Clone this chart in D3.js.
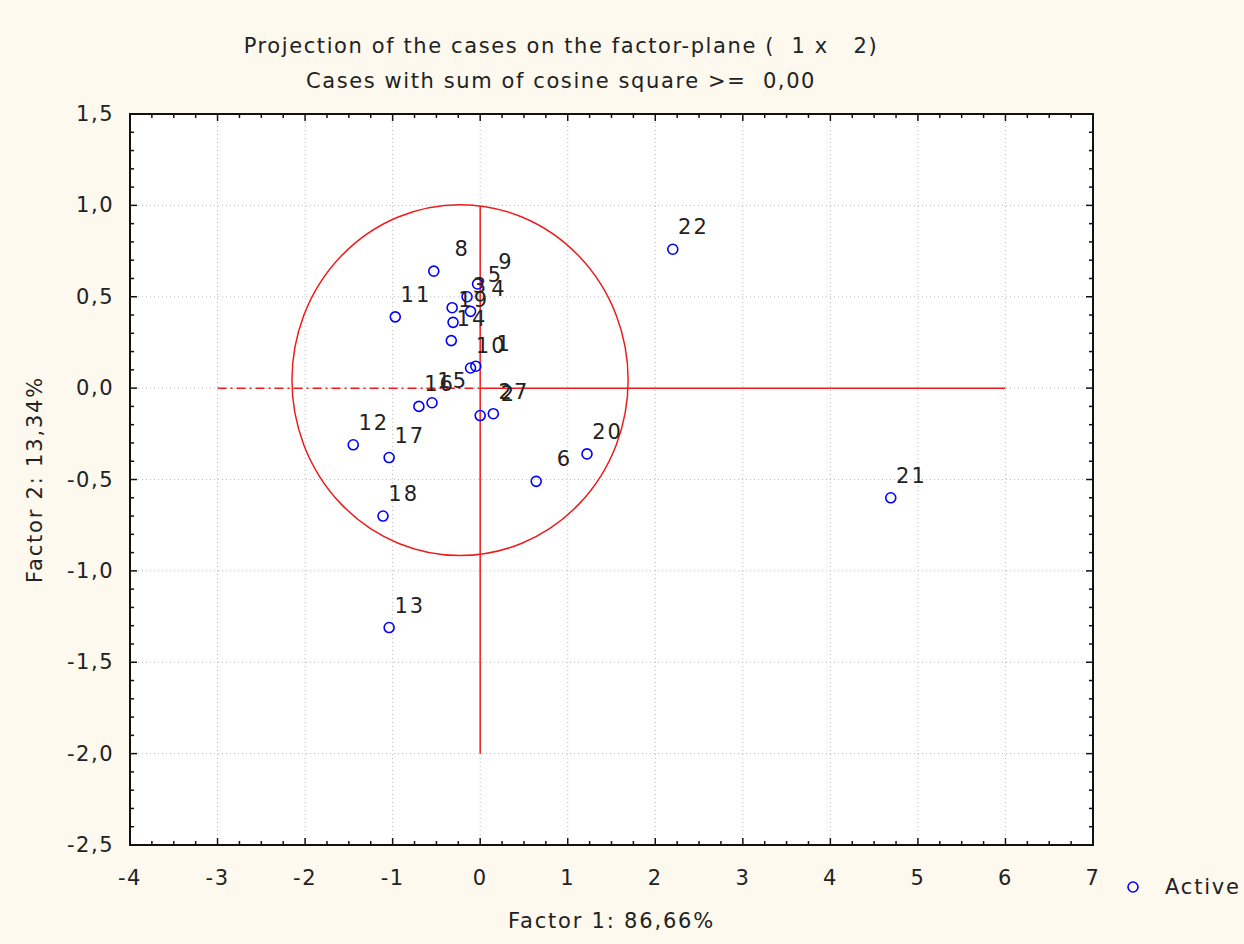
<!DOCTYPE html>
<html>
<head>
<meta charset="utf-8">
<script src="https://cdn.jsdelivr.net/npm/d3@7"></script>
<style>
  body { margin: 0; background: #fdf9ee; }
  text { font-family: "DejaVu Sans", "Liberation Sans", sans-serif; fill: #222; }
</style>
</head>
<body>
<div id="chart"></div>
<script>
const W = 1244, H = 944,
  margin = { top: 114, right: 151, bottom: 99, left: 130 },
  pw = W - margin.left - margin.right,
  ph = H - margin.top - margin.bottom,
  ptColor = "#0000ff",
  refColor = "#ee1c1c"

// case labels and factor coordinates
const caseLabels = ["8", "11", "9", "5", "3", "4", "19", "14", "10", "1", "15", "16", "2", "27", "12", "17", "18", "13", "6", "20", "21", "22"];
const factor1 = [-0.53, -0.97, -0.03, -0.15, -0.32, -0.11, -0.31, -0.33, -0.11, -0.05, -0.55, -0.70, 0.00, 0.15, -1.45, -1.04, -1.11, -1.04, 0.64, 1.22, 4.69, 2.20];
const factor2 = [0.64, 0.39, 0.57, 0.50, 0.44, 0.42, 0.36, 0.26, 0.11, 0.12, -0.08, -0.10, -0.15, -0.14, -0.31, -0.38, -0.70, -1.31, -0.51, -0.36, -0.60, 0.76];

const xTicks = [-4, -3, -2, -1, 0, 1, 2, 3, 4, 5, 6, 7];
const yTicks = [1.5, 1.0, 0.5, 0.0, -0.5, -1.0, -1.5, -2.0, -2.5];
const yTickLabels = ["1,5", "1,0", "0,5", "0,0", "-0,5", "-1,0", "-1,5", "-2,0", "-2,5"];

const data = caseLabels.map((l, i) => ({ label: l, x: factor1[i], y: factor2[i] }));

var x = d3.scaleLinear().domain([-4, 7]).range([0, pw]);
var y = d3.scaleLinear().domain([-2.5, 1.5]).range([ph, 0]);

var svg = d3.select("#chart").append("svg")
  .attr("width", W).attr("height", H)
  .style("background", "#fdf9ee");

// titles
svg.append("text").attr("x", 561).attr("y", 53).attr("text-anchor", "middle")
  .attr("font-size", "21px").attr("letter-spacing", "1.6px").attr("xml:space", "preserve")
  .text("Projection of the cases on the factor-plane (  1 x   2)");
svg.append("text").attr("x", 561).attr("y", 88).attr("text-anchor", "middle")
  .attr("font-size", "21px").attr("letter-spacing", "1.6px").attr("xml:space", "preserve")
  .text("Cases with sum of cosine square >=  0,00");

var g = svg.append("g").attr("transform", "translate(" + margin.left + "," + margin.top + ")");

g.append("rect").attr("width", pw).attr("height", ph).attr("fill", "#fff");

// grid
g.selectAll(".gx").data(xTicks.slice(1, -1)).enter().append("line")
  .attr("x1", d => x(d)).attr("x2", d => x(d)).attr("y1", 0).attr("y2", ph)
  .attr("stroke", "#bbb").attr("stroke-dasharray", "1,3");
g.selectAll(".gy").data(yTicks.slice(1, -1)).enter().append("line")
  .attr("y1", d => y(d)).attr("y2", d => y(d)).attr("x1", 0).attr("x2", pw)
  .attr("stroke", "#bbb").attr("stroke-dasharray", "1,3");

// inward ticks on all four sides
const xMinor = d3.range(-4, 7.001, 0.25);
const yMinor = d3.range(-2.5, 1.501, 0.1);
function isMajor(v, step) { return Math.abs(v / step - Math.round(v / step)) < 1e-6; }
xMinor.forEach(v => {
  const len = isMajor(v, 1) ? 7 : 4;
  g.append("line").attr("x1", x(v)).attr("x2", x(v)).attr("y1", ph).attr("y2", ph - len).attr("stroke", "#111").attr("stroke-width", 1.5);
  g.append("line").attr("x1", x(v)).attr("x2", x(v)).attr("y1", 0).attr("y2", len).attr("stroke", "#111").attr("stroke-width", 1.5);
});
yMinor.forEach(v => {
  const len = isMajor(v, 0.5) ? 7 : 4;
  g.append("line").attr("y1", y(v)).attr("y2", y(v)).attr("x1", 0).attr("x2", len).attr("stroke", "#111").attr("stroke-width", 1.5);
  g.append("line").attr("y1", y(v)).attr("y2", y(v)).attr("x1", pw).attr("x2", pw - len).attr("stroke", "#111").attr("stroke-width", 1.5);
});

g.append("rect").attr("width", pw).attr("height", ph).attr("fill", "none")
  .attr("stroke", "#111").attr("stroke-width", 2);

// tick labels
g.selectAll(".xl").data(xTicks).enter().append("text")
  .attr("x", d => x(d)).attr("y", ph + 40).attr("text-anchor", "middle")
  .attr("font-size", "21px").attr("letter-spacing", "1.5px").text(d => d);
g.selectAll(".yl").data(yTicks).enter().append("text")
  .attr("x", -16).attr("y", d => y(d) + 7).attr("text-anchor", "end")
  .attr("font-size", "21px").attr("letter-spacing", "1.5px").text((d, i) => yTickLabels[i]);

// axis titles
svg.append("text").attr("x", margin.left + pw / 2).attr("y", 928).attr("text-anchor", "middle")
  .attr("font-size", "21px").attr("letter-spacing", "1.8px").text("Factor 1: 86,66%");
svg.append("text").attr("transform", "translate(42," + (margin.top + ph / 2) + ") rotate(-90)")
  .attr("text-anchor", "middle").attr("font-size", "21px").attr("letter-spacing", "1.8px").text("Factor 2: 13,34%");

// reference lines and circle
g.append("line").attr("x1", x(0)).attr("x2", x(0)).attr("y1", y(1)).attr("y2", y(-2))
  .attr("stroke", refColor).attr("stroke-width", 1.5);
g.append("line").attr("x1", x(0)).attr("x2", x(6)).attr("y1", y(0)).attr("y2", y(0))
  .attr("stroke", refColor).attr("stroke-width", 1.5);
g.append("line").attr("x1", x(-3)).attr("x2", x(0)).attr("y1", y(0)).attr("y2", y(0))
  .attr("stroke", refColor).attr("stroke-width", 1.5).attr("stroke-dasharray", "9,4,2,4");
g.append("ellipse")
  .attr("cx", x(-0.23)).attr("cy", y(0.044))
  .attr("rx", x(1.92) - x(0)).attr("ry", y(0) - y(0.96))
  .attr("fill", "none").attr("stroke", refColor).attr("stroke-width", 1.5);

// points
g.selectAll(".pt").data(data).enter().append("circle")
  .attr("cx", d => x(d.x)).attr("cy", d => y(d.y)).attr("r", 5)
  .attr("fill", "none").attr("stroke", ptColor).attr("stroke-width", 1.6);
g.selectAll(".lb").data(data).enter().append("text")
  .attr("x", d => x(d.x) + 36).attr("y", d => y(d.y) - 15)
  .attr("text-anchor", "end").attr("font-size", "21px").attr("letter-spacing", "2px").text(d => d.label);

// legend
svg.append("circle").attr("cx", 1133).attr("cy", 887).attr("r", 5)
  .attr("fill", "none").attr("stroke", ptColor).attr("stroke-width", 1.6);
svg.append("text").attr("x", 1165).attr("y", 894).attr("font-size", "21px").attr("letter-spacing", "1.8px").text("Active");
</script>
</body>
</html>
